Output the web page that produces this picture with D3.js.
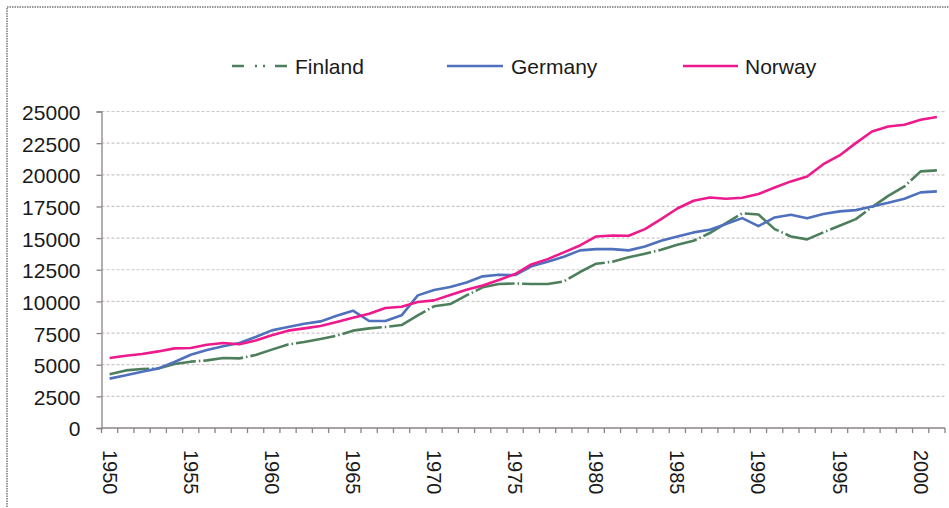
<!DOCTYPE html>
<html>
<head>
<meta charset="utf-8">
<script src="https://cdn.jsdelivr.net/npm/d3@7/dist/d3.min.js"></script>
<style>
  html, body { margin: 0; padding: 0; background: #fff; }
  svg { display: block; }
  text { font-family: "Liberation Sans", Arial, sans-serif; fill: #1a1a1a; }
</style>
</head>
<body>
<svg id="chart" width="949" height="508"></svg>
<script>
const years = d3.range(1950, 2002);
const finland = [4250, 4550, 4660, 4700, 5050, 5240, 5340, 5530, 5500, 5760,
  6190, 6600, 6790, 7030, 7290, 7690, 7870, 7975, 8130, 8900,
  9610, 9790, 10475, 11110, 11370, 11420, 11370, 11370, 11580, 12320,
  12980, 13130, 13480, 13770, 14080, 14480, 14790, 15400, 16190, 16950,
  16870, 15710, 15130, 14900, 15450, 15980, 16500, 17450, 18340, 19080,
  20270, 20350];
const germany = [3900, 4160, 4450, 4710, 5210, 5790, 6160, 6450, 6710, 7190,
  7710, 7970, 8240, 8420, 8870, 9265, 8450, 8450, 8900, 10475,
  10900, 11130, 11500, 11980, 12100, 12080, 12770, 13130, 13530, 14030,
  14130, 14130, 14030, 14340, 14790, 15130, 15450, 15660, 16110, 16580,
  15950, 16630, 16840, 16560, 16900, 17110, 17210, 17500, 17790, 18110,
  18610, 18690];
const norway = [5527, 5711, 5840, 6050, 6290, 6320, 6580, 6710, 6610, 6920,
  7320, 7690, 7870, 8050, 8370, 8710, 9030, 9475, 9580, 9950,
  10080, 10500, 10920, 11260, 11690, 12160, 12920, 13340, 13870, 14420,
  15130, 15210, 15180, 15710, 16500, 17340, 17950, 18210, 18110, 18190,
  18480, 19000, 19480, 19870, 20840, 21530, 22500, 23420, 23820, 23950,
  24350, 24560];
const yTicks = [0, 2500, 5000, 7500, 10000, 12500, 15000, 17500, 20000, 22500, 25000];
const labelYears = [1950, 1955, 1960, 1965, 1970, 1975, 1980, 1985, 1990, 1995, 2000];

const series = [
  { name: "Finland", values: finland, color: "#4e7f5d", dash: "40,3,1.5,3", legendDash: "12,11,2,6,2,10,13" },
  { name: "Germany", values: germany, color: "#4f71bd", dash: null, legendDash: null },
  { name: "Norway", values: norway, color: "#ec1a8c", dash: null, legendDash: null }
];

const svg = d3.select("#chart");
const pLeft = 101.5, pRight = 945, pTop = 111.5, pBottom = 428;

const x = d3.scaleBand().domain(years).range([pLeft, pRight]).padding(0);
const y = d3.scaleLinear().domain([0, 25000]).range([pBottom, pTop]);
const cx = d => x(d) + x.bandwidth() / 2;

// outer frame
svg.append("rect")
  .attr("x", 7).attr("y", 7).attr("width", 960).attr("height", 520)
  .attr("fill", "none").attr("stroke", "#777").attr("stroke-width", 1.5)
  .attr("stroke-dasharray", "1.5,1");

// gridlines
svg.append("g").selectAll("line")
  .data(yTicks.filter(t => t > 0))
  .join("line")
  .attr("x1", pLeft).attr("x2", pRight)
  .attr("y1", d => y(d)).attr("y2", d => y(d))
  .attr("stroke", "#cfc6c6").attr("stroke-width", 1.2)
  .attr("stroke-dasharray", "3,2");

// y axis
const yAxis = d3.axisLeft(y).tickValues(yTicks).tickSize(5).tickPadding(16).tickFormat(d3.format("d"));
const gy = svg.append("g").attr("transform", `translate(${pLeft},0)`).call(yAxis);
gy.select(".domain").attr("stroke", "#8a8484").attr("stroke-width", 1.3);
gy.selectAll(".tick line").attr("stroke", "#8a8484").attr("stroke-width", 1.3);
gy.selectAll(".tick text").attr("font-size", 21).attr("fill", "#1a1a1a")
  .attr("font-family", "'Liberation Sans', Arial, sans-serif").attr("dy", "0.38em");

// x axis line
svg.append("line").attr("x1", pLeft).attr("x2", pRight).attr("y1", pBottom).attr("y2", pBottom)
  .attr("stroke", "#8a8484").attr("stroke-width", 1.3);
// x tick marks at category boundaries
const boundaries = years.map(yr => x(yr)).concat([x(years[years.length - 1]) + x.bandwidth()]);
svg.append("g").selectAll("line").data(boundaries).join("line")
  .attr("x1", d => d).attr("x2", d => d)
  .attr("y1", pBottom).attr("y2", pBottom + 5)
  .attr("stroke", "#8a8484").attr("stroke-width", 1.3);
// x labels rotated
svg.append("g").selectAll("text").data(labelYears).join("text")
  .attr("transform", d => `translate(${cx(d) - 7},${pBottom + 22}) rotate(90)`)
  .attr("text-anchor", "start")
  .attr("font-size", 20)
  .text(d => d);

// lines
const line = d3.line().x((d, i) => cx(years[i])).y(d => y(d));
series.forEach(s => {
  svg.append("path")
    .datum(s.values)
    .attr("d", line)
    .attr("fill", "none")
    .attr("stroke", s.color)
    .attr("stroke-width", 2.6)
    .attr("stroke-linejoin", "round")
    .attr("stroke-dasharray", s.dash);
});

// legend
const legendItems = [
  { s: series[0], x1: 232, x2: 287, tx: 295 },
  { s: series[1], x1: 447, x2: 503, tx: 511 },
  { s: series[2], x1: 683, x2: 738, tx: 745 }
];
const ly = 66;
const lg = svg.append("g");
legendItems.forEach(it => {
  lg.append("line").attr("x1", it.x1).attr("x2", it.x2).attr("y1", ly).attr("y2", ly)
    .attr("stroke", it.s.color).attr("stroke-width", 2.6)
    .attr("stroke-dasharray", it.s.legendDash);
  lg.append("text").attr("x", it.tx).attr("y", ly).attr("dy", "0.36em")
    .attr("font-size", 21).text(it.s.name);
});
</script>
</body>
</html>
